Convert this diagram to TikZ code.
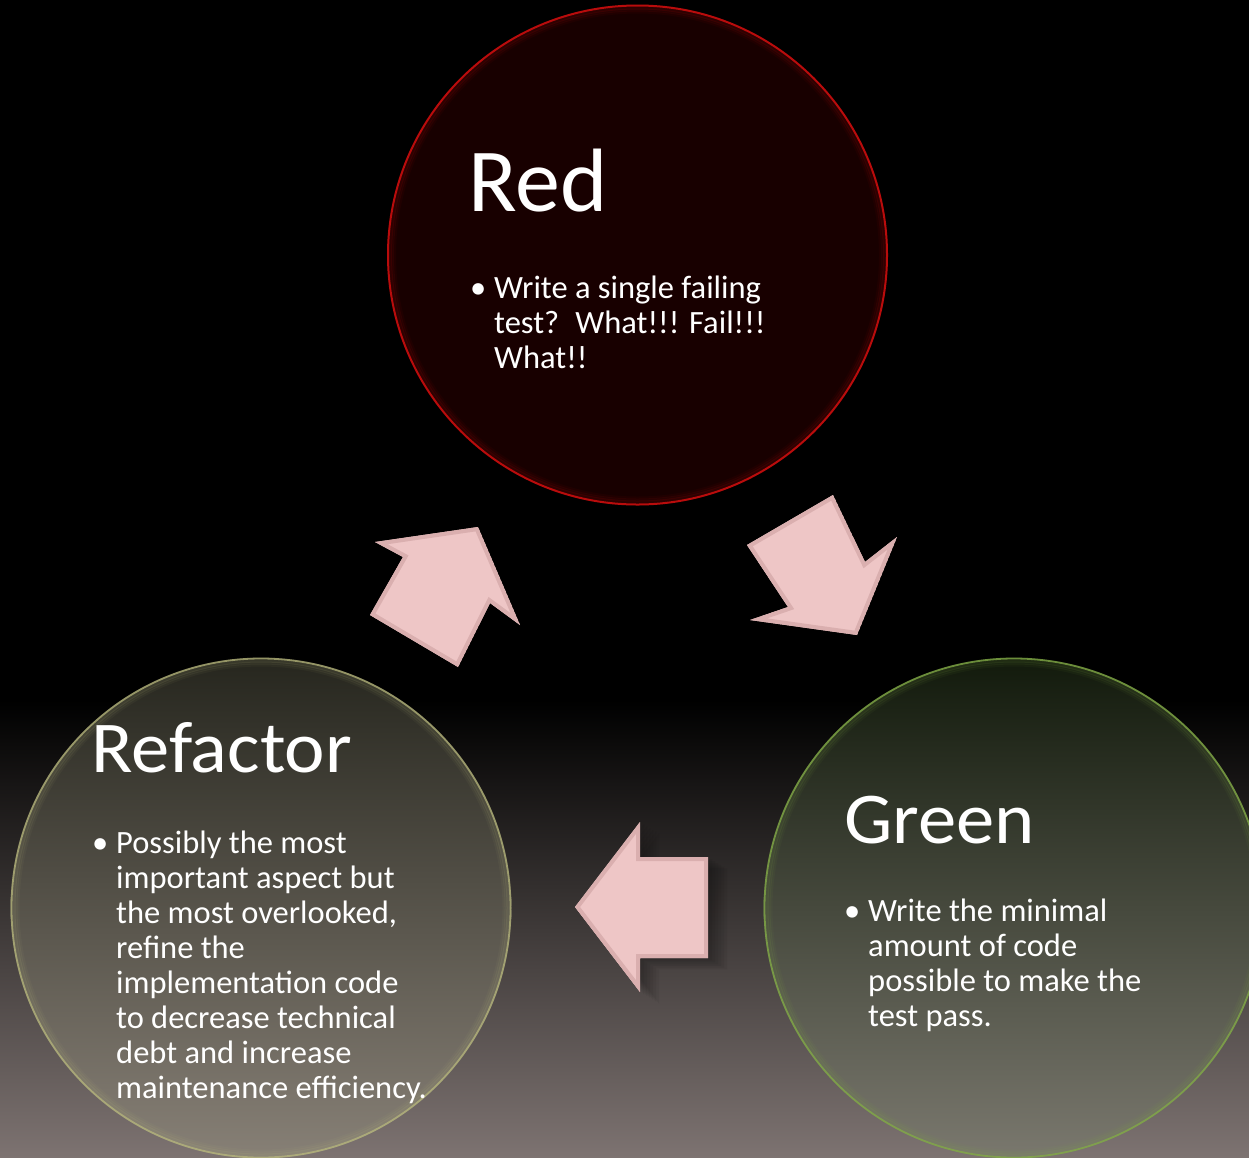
\documentclass[tikz,border=0pt]{standalone}
\usepackage{fontspec}
\setmainfont{Carlito}
\newfontfamily\titlefont[FakeStretch=1.05]{Carlito}
\definecolor{bgbot}{RGB}{125,115,113}
\definecolor{redfill}{RGB}{24,0,0}
\definecolor{redrim}{RGB}{185,12,12}
\definecolor{reftop}{RGB}{38,38,30}
\definecolor{refbot}{RGB}{135,128,118}
\definecolor{refrim}{RGB}{185,185,125}
\definecolor{grntop}{RGB}{18,26,12}
\definecolor{grnbot}{RGB}{122,120,110}
\definecolor{grnrim}{RGB}{130,170,70}
\definecolor{arrowpink}{RGB}{238,198,198}
\definecolor{arrowedge}{RGB}{218,175,175}
\begin{document}
\begin{tikzpicture}[x=1pt,y=-1pt,
  titletext/.style={text=white, font=\titlefont\fontsize{73}{84}\selectfont, inner sep=0pt, anchor=base west},
  bodytext/.style={text=white, font=\fontsize{32.5}{35}\selectfont, inner sep=0pt, anchor=base west},
  bigcircle/.style={circle, minimum size=501pt, inner sep=0pt},
  arrowbody/.style={fill=arrowpink}]
\useasboundingbox (0,0) rectangle (1249,1157);
% background
\fill[black] (0,0) rectangle (1249,705);
\shade[top color=black, bottom color=bgbot] (0,700) rectangle (1249,1157);

% circles
\node[bigcircle, fill=redfill] (red) at (637.5,255) {};
\foreach \r/\o in {247/0.14,245/0.09,243/0.05}
  \draw[redrim, line width=3pt, opacity=\o] (red.center) circle (\r);
\draw[redrim, line width=2pt] (red.center) circle (249.5);

\node[bigcircle, top color=reftop, bottom color=refbot] (refactor) at (261,908) {};
\foreach \r/\o in {247/0.12,245/0.08,243/0.05}
  \draw[refrim, line width=3pt, opacity=\o] (refactor.center) circle (\r);
\draw[refrim, line width=1.8pt, opacity=0.75] (refactor.center) circle (249.5);

\node[bigcircle, top color=grntop, bottom color=grnbot] (green) at (1014,908) {};
\foreach \r/\o in {247/0.12,245/0.08,243/0.05}
  \draw[grnrim, line width=3pt, opacity=\o] (green.center) circle (\r);
\draw[grnrim, line width=1.8pt, opacity=0.8] (green.center) circle (249.5);

% soft shadow of the left arrow
\foreach \d in {4,7,10,13,16,19}
  \fill[black, opacity=0.05, shift={(\d,0.6*\d)}] (575,907) -- (640,822) -- (640,857) -- (708,857) -- (708,958) -- (640,958) -- (640,992) -- cycle;

% arrows
\begin{scope}
  \clip (375,542) -- (478,527) -- (520,625) -- (490,603) -- (458,667) -- (370,615) -- (403,557) -- cycle;
  \fill[arrowbody] (375,542) -- (478,527) -- (520,625) -- (490,603) -- (458,667) -- (370,615) -- (403,557) -- cycle;
  \draw[arrowedge, line width=8pt, line join=miter] (375,542) -- (478,527) -- (520,625) -- (490,603) -- (458,667) -- (370,615) -- (403,557) -- cycle;
\end{scope}
\begin{scope}
  \clip (833,495) -- (865,562) -- (897,537) -- (857,635) -- (750,620) -- (788,607) -- (747,545) -- cycle;
  \fill[arrowbody] (833,495) -- (865,562) -- (897,537) -- (857,635) -- (750,620) -- (788,607) -- (747,545) -- cycle;
  \draw[arrowedge, line width=8pt, line join=miter] (833,495) -- (865,562) -- (897,537) -- (857,635) -- (750,620) -- (788,607) -- (747,545) -- cycle;
\end{scope}
\begin{scope}
  \clip (575,907) -- (640,822) -- (640,857) -- (708,857) -- (708,958) -- (640,958) -- (640,992) -- cycle;
  \fill[arrowbody] (575,907) -- (640,822) -- (640,857) -- (708,857) -- (708,958) -- (640,958) -- (640,992) -- cycle;
  \draw[arrowedge, line width=8pt, line join=miter] (575,907) -- (640,822) -- (640,857) -- (708,857) -- (708,958) -- (640,958) -- (640,992) -- cycle;
\end{scope}

% texts
\node[titletext, font=\fontsize{90}{110}\selectfont] (redtitle) at (468,211) {Red};
\node[bodytext] (redbullet) at (470,298) {•};
\node[bodytext] (redbody) at (494,298) {\parbox[t]{360pt}{Write a single failing\\test?\hspace{0.5em}What!!! Fail!!!\\What!!}};

\node[titletext] (reftitle) at (91,772) {Refactor};
\node[bodytext] (refbullet) at (92,853) {•};
\node[bodytext] (refbody) at (116,853) {\parbox[t]{360pt}{Possibly the most\\important aspect but\\the most overlooked,\\refine the\\implementation code\\to decrease technical\\debt and increase\\maintenance efficiency.}};

\node[titletext] (grntitle) at (844,843) {Green};
\node[bodytext] (grnbullet) at (844,921) {•};
\node[bodytext] (grnbody) at (868,921) {\parbox[t]{360pt}{Write the minimal\\amount of code\\possible to make the\\test pass.}};
\end{tikzpicture}
\end{document}
